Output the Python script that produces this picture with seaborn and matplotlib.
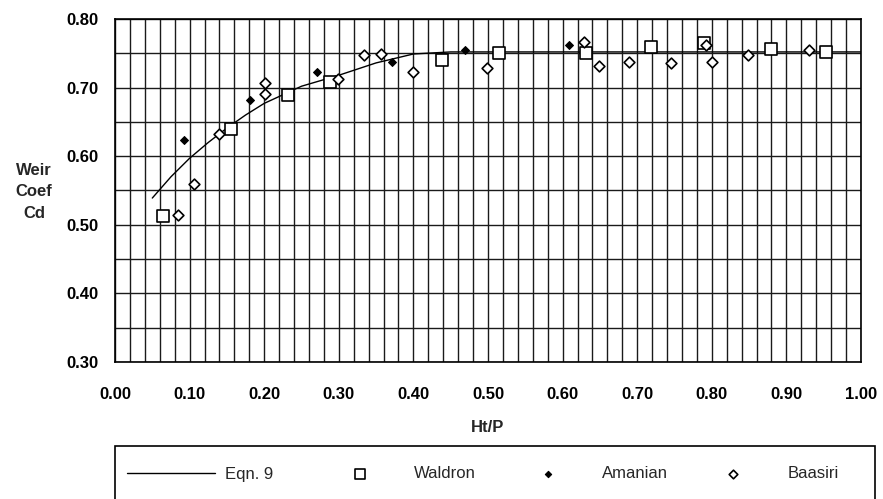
import numpy as np
import matplotlib
matplotlib.use("Agg")
import matplotlib.pyplot as plt
import seaborn as sns
from matplotlib.ticker import MultipleLocator, FormatStrFormatter
from matplotlib.patches import Rectangle

# ---- data ----
eqn_x = [0.05, 0.075, 0.10, 0.125, 0.15, 0.175, 0.20, 0.25, 0.30, 0.35, 0.40, 0.45, 1.00]
eqn_y = [0.539, 0.570, 0.597, 0.620, 0.641, 0.660, 0.677, 0.702, 0.718, 0.736, 0.749, 0.752, 0.752]

waldron_x = [0.064, 0.155, 0.232, 0.288, 0.438, 0.515, 0.631, 0.719, 0.790, 0.879, 0.953]
waldron_y = [0.513, 0.639, 0.689, 0.708, 0.740, 0.750, 0.751, 0.759, 0.765, 0.756, 0.752]

amanian_x = [0.092, 0.181, 0.271, 0.371, 0.469, 0.609]
amanian_y = [0.623, 0.682, 0.723, 0.738, 0.755, 0.762]

baasiri_x = [0.085, 0.106, 0.140, 0.201, 0.201, 0.299, 0.334, 0.356, 0.399,
             0.499, 0.629, 0.649, 0.689, 0.745, 0.792, 0.800, 0.849, 0.930]
baasiri_y = [0.514, 0.560, 0.633, 0.707, 0.690, 0.712, 0.747, 0.749, 0.723,
             0.729, 0.767, 0.731, 0.738, 0.736, 0.762, 0.738, 0.747, 0.755]

x_label = "Ht/P"
y_label = "Weir\nCoef\nCd"

# ---- style ----
sns.set_theme(style="white")
plt.rcParams["font.family"] = ["Liberation Sans", "DejaVu Sans"]

W, H = 883, 499
fig = plt.figure(figsize=(W / 100, H / 100), dpi=100)
ax = fig.add_axes([115 / W, 1 - 362 / H, 746 / W, 343 / H])

sns.lineplot(x=eqn_x, y=eqn_y, ax=ax, color="black", linewidth=1.0,
             label="Eqn. 9", sort=True, zorder=3)
sns.scatterplot(x=waldron_x, y=waldron_y, ax=ax, marker="s", s=72,
                color="white", edgecolor="black", linewidth=1.2,
                label="Waldron", zorder=4)
sns.scatterplot(x=amanian_x, y=amanian_y, ax=ax, marker="D", s=16,
                color="black", edgecolor="black", linewidth=0.8,
                label="Amanian", zorder=5)
sns.scatterplot(x=baasiri_x, y=baasiri_y, ax=ax, marker="D", s=30,
                color="white", edgecolor="black", linewidth=1.2,
                label="Baasiri", zorder=5)

ax.set_xlim(0, 1.0)
ax.set_ylim(0.30, 0.80)
ax.xaxis.set_major_locator(MultipleLocator(0.1))
ax.xaxis.set_minor_locator(MultipleLocator(0.02))
ax.yaxis.set_major_locator(MultipleLocator(0.1))
ax.yaxis.set_minor_locator(MultipleLocator(0.05))
ax.xaxis.set_major_formatter(FormatStrFormatter("%.2f"))
ax.yaxis.set_major_formatter(FormatStrFormatter("%.2f"))

ax.grid(True, which="both", color="#1a1a1a", linewidth=1.0)
ax.set_axisbelow(True)
for sp in ax.spines.values():
    sp.set_color("black")
    sp.set_linewidth(1.2)

ax.tick_params(axis="both", which="major", direction="out", length=5, width=1,
               colors="black", labelsize=12)
ax.tick_params(axis="both", which="minor", length=0)
ax.tick_params(axis="x", which="major", pad=13)
ax.tick_params(axis="y", which="major", pad=7)
for lab in ax.get_xticklabels() + ax.get_yticklabels():
    lab.set_fontweight("bold")

ax.set_xlabel(x_label, fontsize=12, fontweight="bold", labelpad=13)
ax.set_ylabel(y_label, fontsize=12, fontweight="bold", rotation=0,
              ha="center", va="center", multialignment="center", linespacing=1.55)
ax.yaxis.set_label_coords((34 - 115) / 746, (362 - 192) / 343)

# ---- legend: one boxed row of four equal-pitch entries ----
handles, labels = ax.get_legend_handles_labels()
ax.get_legend().remove()
fig.add_artist(Rectangle((115 / W, 1 - 512 / H), 760 / W, 66 / H,
                         transform=fig.transFigure, facecolor="white",
                         edgecolor="black", linewidth=1.2, clip_on=False, zorder=1))
entry_starts = [127, 316, 504, 689]
for h, l, x0 in zip(handles, labels, entry_starts):
    lg = fig.legend([h], [l], loc="center left",
                    bbox_to_anchor=(x0 / W, 1 - 474 / H),
                    frameon=False, borderpad=0, borderaxespad=0,
                    handlelength=5.3, handletextpad=0.6, markerscale=0.8,
                    prop={"size": 12})
    lg.set_zorder(2)

fig.savefig("out.png", dpi=100, facecolor="white")
